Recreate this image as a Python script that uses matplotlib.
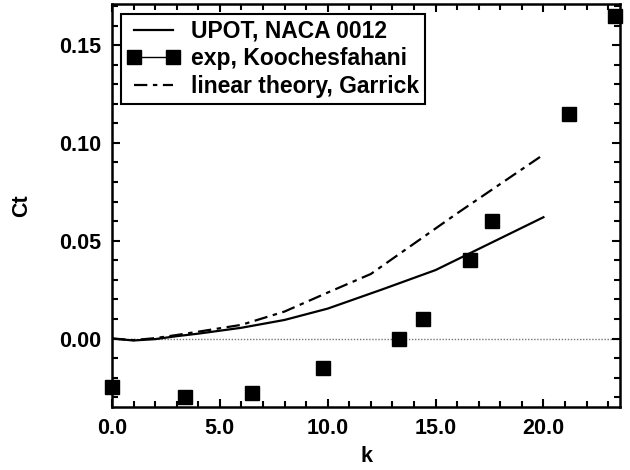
import matplotlib.pyplot as plt
from matplotlib.lines import Line2D
from matplotlib.ticker import MultipleLocator, FormatStrFormatter

# UPOT, NACA 0012
k_upot = [0, 1, 2, 3, 4, 6, 8, 10, 12.5, 15, 20]
ct_upot = [0.0, -0.001, -0.0003, 0.0012, 0.0025, 0.0055, 0.0095, 0.0153, 0.025, 0.035, 0.062]

# linear theory, Garrick
k_garrick = [0, 1, 2, 3, 4, 6, 8, 10, 12, 16, 20]
ct_garrick = [0.0, -0.0008, 0.0002, 0.0018, 0.0035, 0.007, 0.0138, 0.0235, 0.033, 0.064, 0.094]

# exp, Koochesfahani
k_exp = [0, 3.4, 6.5, 9.8, 13.3, 14.4, 16.6, 17.6, 21.2, 23.3]
ct_exp = [-0.025, -0.030, -0.028, -0.015, 0.000, 0.010, 0.040, 0.060, 0.115, 0.165]

plt.rcParams['font.family'] = ['Liberation Sans', 'DejaVu Sans']
plt.rcParams['font.weight'] = 'bold'
plt.rcParams['font.size'] = 15.5

fig = plt.figure(figsize=(6.3, 4.7), dpi=100)
ax = fig.add_axes([112 / 630, 1 - 407 / 470, 508 / 630, 403 / 470])

# zero reference line
ax.axhline(0, color='#777777', lw=1, ls=(0, (1, 1.2)), zorder=1)
ax.plot(k_upot, ct_upot, color='black', lw=1.6, zorder=3)
ax.plot(k_garrick, ct_garrick, color='black', lw=1.6,
        ls=(0, (6, 2.5, 2, 2.5)), zorder=3)
ax.plot(k_exp, ct_exp, 's', color='black', ms=9.5, ls='none',
        clip_on=False, zorder=4)

ax.set_xlim(0, 23.55)
ax.set_ylim(-0.035, 0.171)
ax.xaxis.set_major_locator(MultipleLocator(5))
ax.xaxis.set_minor_locator(MultipleLocator(1))
ax.yaxis.set_major_locator(MultipleLocator(0.05))
ax.yaxis.set_minor_locator(MultipleLocator(0.01))
ax.xaxis.set_major_formatter(FormatStrFormatter('%.1f'))
ax.yaxis.set_major_formatter(FormatStrFormatter('%.2f'))

ax.tick_params(which='both', direction='in', top=True, right=True, width=1.5)
ax.tick_params(which='major', length=6, pad=8)
ax.tick_params(which='minor', length=4)
for s in ax.spines.values():
    s.set_linewidth(1.8)

ax.set_xlabel('k', fontweight='bold')
ax.set_ylabel('Ct', fontweight='bold')
ax.xaxis.set_label_coords(0.5, -0.097)
ax.yaxis.set_label_coords(-0.157, 0.5)

handles = [
    Line2D([], [], color='black', lw=1.6),
    Line2D([], [], color='black', lw=1, marker='s', ms=9.5),
    Line2D([], [], color='black', lw=1.6, ls=(0, (6, 2.5, 2, 2.5))),
]
labels = ['UPOT, NACA 0012', 'exp, Koochesfahani', 'linear theory, Garrick']
leg = ax.legend(handles, labels, loc='upper left', bbox_to_anchor=(0.018, 0.975),
                numpoints=2, handlelength=2.3, handletextpad=0.5,
                labelspacing=0.2, borderpad=0.25, borderaxespad=0,
                fancybox=False, edgecolor='black', framealpha=1,
                prop={'weight': 'bold', 'size': 16.5})
leg.get_frame().set_linewidth(1.5)

fig.savefig('out.png', dpi=100)
